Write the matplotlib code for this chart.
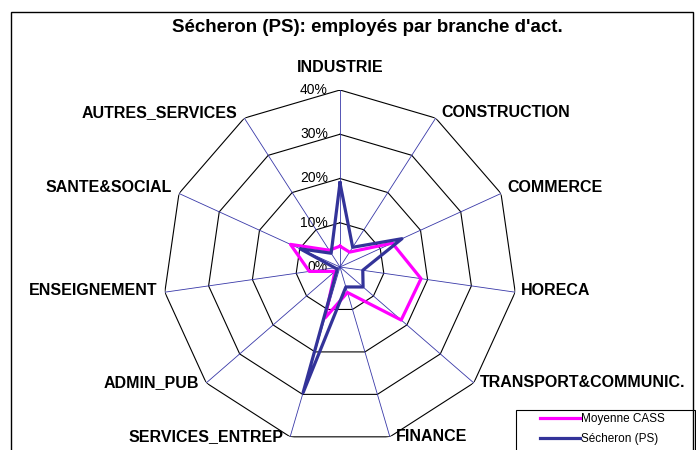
import numpy as np
import matplotlib
matplotlib.use('Agg')
import matplotlib.pyplot as plt
from matplotlib.patches import Rectangle

# ---------------- data ----------------
categories = ['INDUSTRIE', 'CONSTRUCTION', 'COMMERCE', 'HORECA',
              'TRANSPORT&COMMUNIC.', 'FINANCE', 'SERVICES_ENTREP',
              'ADMIN_PUB', 'ENSEIGNEMENT', 'SANTE&SOCIAL', 'AUTRES_SERVICES']
moyenne_cass = [4.7, 4.0, 13.0, 18.5, 18.3, 6.0, 12.0, 1.5, 7.0, 12.3, 4.5]
secheron = [19.0, 5.3, 15.4, 5.2, 6.9, 4.7, 29.6, 0.8, 1.2, 9.9, 3.7]
ring_values = [0, 10, 20, 30, 40]
ring_labels = ['0%', '10%', '20%', '30%', '40%']
series_names = ['Moyenne CASS', 'Sécheron (PS)']
title = "Sécheron (PS): employés par branche d'act."

# ---------------- style ----------------
plt.rcParams['font.family'] = ['Liberation Sans', 'DejaVu Sans']
MAGENTA = '#FF00FF'
NAVY = '#333399'
SPOKE = '#3838A8'

W, H = 696, 450
fig = plt.figure(figsize=(W / 100, H / 100), dpi=100)
fig.patch.set_facecolor('white')

cx, cy, R = 340, 267, 177
ax = fig.add_axes([(cx - R) / W, (H - cy - R) / H, 2 * R / W, 2 * R / H],
                  projection='polar')
ax.set_theta_zero_location('N')
ax.set_theta_direction(-1)
ax.set_ylim(0, ring_values[-1])
ax.axis('off')

n = len(categories)
theta = np.arange(n) * 2 * np.pi / n
theta_closed = np.append(theta, theta[0])

# rings (polygonal)
for r in ring_values[1:]:
    ax.plot(theta_closed, [r] * (n + 1), color='black', lw=0.8, zorder=1)
# spokes
for t in theta:
    ax.plot([t, t], [0, ring_values[-1]], color=SPOKE, lw=0.6, zorder=1)

# ring labels
for r, lab in zip(ring_values, ring_labels):
    ax.annotate(lab, xy=(0, r), xytext=(-12, 0), textcoords='offset pixels',
                ha='right', va='center', fontsize=10, zorder=2)

# series
def closed(v):
    return list(v) + [v[0]]

l1, = ax.plot(theta_closed, closed(moyenne_cass), color=MAGENTA, lw=2.3, zorder=3)
l2, = ax.plot(theta_closed, closed(secheron), color=NAVY, lw=2.3, zorder=4)

# category labels
dys = [22, 6, 6, 2, 0, 0, 0, 0, 2, 6, 6]
for i, (t, lab) in enumerate(zip(theta, categories)):
    s = np.sin(t)
    if i == 0:
        ha, dx = 'center', 0
    elif s > 0:
        ha, dx = 'left', 6
    else:
        ha, dx = 'right', -7
    ax.annotate(lab, xy=(t, ring_values[-1]), xytext=(dx, dys[i]),
                textcoords='offset pixels', ha=ha, va='center',
                fontsize=11.5, fontweight='bold', annotation_clip=False)

# title
fig.text(367 / W, 1 - 28 / H, title, ha='center', va='center',
         fontsize=13.5, fontweight='bold')

# outer chart frame
fig.add_artist(Rectangle((11 / W, -0.1), (693 - 11) / W, 1.1 - 12 / H,
                         transform=fig.transFigure, fill=False,
                         ec='black', lw=1.0))
# legend box
fig.add_artist(Rectangle((516 / W, -0.1), (695 - 516) / W, 0.1 + 1 - 410 / H,
                         transform=fig.transFigure, fill=False,
                         ec='black', lw=0.8))
fig.legend(handles=[l1, l2], labels=series_names, loc='upper left',
           bbox_to_anchor=(540 / W, 1 - 413 / H), frameon=False,
           borderpad=0, borderaxespad=0, fontsize=8.5, handlelength=3.4,
           handletextpad=0.1, labelspacing=0.7)

fig.savefig('out.png', dpi=100, facecolor='white')
